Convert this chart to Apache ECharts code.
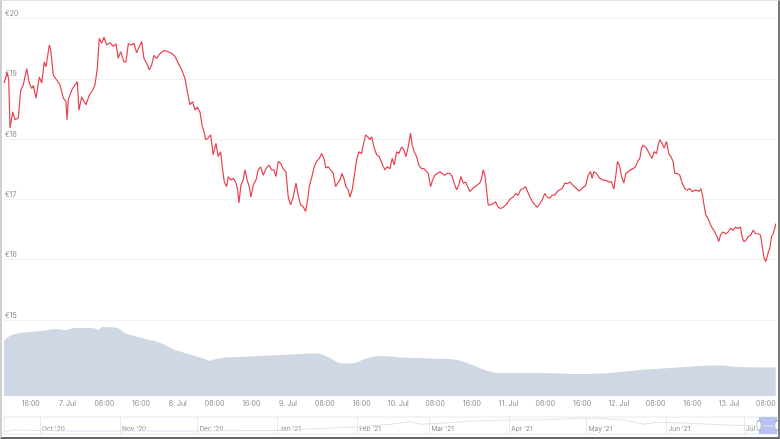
<!DOCTYPE html>
<html><head><meta charset="utf-8">
<script src="https://cdn.jsdelivr.net/npm/echarts@6/dist/echarts.min.js"></script>
<style>
html,body{margin:0;padding:0;background:#fff;}
#c{position:absolute;left:0;top:0;width:780px;height:439px;}
#frame{position:absolute;left:0;top:0;width:780px;height:439px;box-sizing:border-box;border-left:2px solid #cfcfcf;border-top:1px solid #e2e2e2;border-right:2px solid #7a7a7a;border-bottom:2px solid #666;pointer-events:none;}
</style>
</head><body><div id="c"></div><div id="frame"></div>
<script>
// Hours since 6 Jul 2021 00:00
const priceHours = [
10.18,10.90,11.21,11.49,11.86,12.08,12.58,13.29,13.82,14.38,15.12,15.69,16.21,16.56,17.15,17.86,18.39,18.95,19.32,20.04,
20.34,20.91,21.65,22.37,23.09,23.67,23.89,24.17,24.91,25.63,26.13,26.50,27.09,27.59,28.02,28.74,29.48,29.98,30.48,30.92,
31.44,31.94,32.53,33.25,33.96,34.55,35.05,35.57,36.29,36.73,37.23,37.97,38.47,39.05,39.62,40.14,40.64,41.23,41.80,42.32,
42.82,43.41,44.13,44.99,45.93,46.67,47.39,48.11,48.85,49.56,50.07,
50.65,51.24,51.74,52.24,52.83,53.33,53.70,54.07,54.63,55.16,55.72,56.31,56.81,57.33,57.68,58.12,58.64,58.99,59.51,60.07,
60.60,61.03,61.31,61.75,62.25,62.62,63.12,63.56,63.92,64.43,65.01,65.51,66.04,66.60,67.19,67.84,68.43,68.93,69.36,69.87,
70.39,70.95,71.54,72.04,72.56,73.13,73.72,74.21,74.74,75.30,75.83,76.26,76.61,77.20,77.70,78.22,78.79,79.31,79.81,80.24,
80.74,81.27,81.83,82.35,82.79,83.29,83.72,84.16,84.60,85.10,85.47,85.97,86.40,86.92,87.42,88.01,88.36,88.88,89.32,89.82,
90.19,90.69,91.28,91.84,
92.58,93.08,93.58,94.17,94.67,95.11,95.63,96.13,96.71,97.21,97.65,98.15,98.67,99.02,99.46,99.98,100.48,101.06,101.57,102.00,
102.50,103.02,103.46,103.96,104.46,105.05,105.55,106.13,106.64,107.22,107.72,108.16,108.68,109.18,109.62,110.12,110.64,111.07,111.57,112.16,
112.66,113.16,113.75,114.12,114.47,114.84,115.21,115.56,116.08,116.64,117.17,117.73,118.25,118.82,119.41,119.91,120.50,121.00,121.58,122.08,
122.61,123.17,123.69,124.13,124.63,125.22,125.72,126.22,126.81,127.31,127.89,128.40,128.98,129.48,130.07,130.57,131.16,131.66,132.24,132.75,
133.33,
134.05,134.79,135.36,136.10,136.75,137.31,137.84,138.18,138.55,139.14,139.86,140.58,141.32,141.89,142.41,142.91,143.34,143.71,144.21,144.58,
145.08,145.52,146.02,146.54,147.11,147.63,148.06,148.56,148.93,149.28,149.80,150.24,150.74,151.24,151.68,152.20,152.55,152.92,153.42,153.85,
154.37,154.87,155.31,155.81,156.18,156.68,157.26,157.77,158.35,158.86,159.44,159.94,160.53,161.03,161.47,161.83,162.20,162.49,162.92,163.42,
163.95,164.38,164.88,165.38,165.75,166.12,166.69,167.27,167.78,168.30,168.86,169.39,169.95,170.48,170.82,171.19,171.63,172.13,172.72,173.22,
173.73,174.30,174.83,175.26,175.61,175.98,176.48,176.85,177.22,177.57,177.94,178.15
];
const prices = [
18.93,19.10,18.98,18.18,18.21,18.45,18.32,18.35,18.81,18.90,19.17,18.93,18.84,18.89,18.68,19.03,18.93,19.28,19.20,19.56,
19.48,19.06,18.98,18.90,18.68,18.62,18.32,18.65,18.81,18.90,18.95,18.48,18.70,18.62,18.57,18.73,18.81,18.90,19.17,19.67,
19.59,19.69,19.56,19.60,19.54,19.58,19.34,19.45,19.28,19.28,19.58,19.56,19.59,19.43,19.53,19.62,19.34,19.26,19.15,19.23,
19.39,19.34,19.42,19.47,19.45,19.42,19.37,19.26,19.15,19.01,18.79,
18.57,18.62,18.48,18.53,18.45,18.21,18.13,17.99,18.02,18.07,17.74,17.93,17.71,17.79,17.54,17.29,17.21,17.38,17.32,17.35,
17.29,17.16,16.94,17.24,17.32,17.49,17.32,17.21,17.04,17.24,17.32,17.49,17.54,17.40,17.51,17.57,17.49,17.49,17.38,17.63,
17.60,17.51,17.46,17.04,16.91,17.04,17.27,17.07,16.91,16.88,16.80,16.99,17.21,17.38,17.54,17.63,17.68,17.76,17.68,17.52,
17.54,17.49,17.43,17.21,17.27,17.32,17.43,17.35,17.21,17.16,17.04,17.16,17.13,17.65,17.79,17.76,17.90,18.07,18.04,17.99,
18.04,17.87,17.74,17.71,
17.57,17.49,17.54,17.51,17.68,17.57,17.79,17.76,17.87,17.82,17.71,17.87,18.10,17.90,17.79,17.71,17.57,17.51,17.51,17.49,
17.43,17.21,17.32,17.40,17.43,17.46,17.43,17.40,17.43,17.43,17.38,17.27,17.16,17.24,17.38,17.27,17.29,17.27,17.13,17.18,
17.21,17.24,17.27,17.35,17.49,17.40,17.16,16.91,16.91,16.93,16.96,16.87,16.85,16.87,16.91,16.96,17.02,17.04,17.10,17.07,
17.16,17.18,17.21,17.13,17.04,16.96,16.91,16.87,16.93,16.99,17.10,17.04,17.02,17.07,17.07,17.13,17.16,17.18,17.27,17.26,
17.29,
17.23,17.18,17.14,17.19,17.23,17.40,17.46,17.35,17.46,17.43,17.35,17.32,17.31,17.29,17.29,17.17,17.40,17.63,17.54,17.38,
17.27,17.43,17.46,17.49,17.51,17.54,17.63,17.68,17.85,17.90,17.87,17.82,17.74,17.68,17.79,17.76,17.90,17.99,17.93,17.85,
17.96,17.76,17.71,17.63,17.43,17.43,17.40,17.27,17.18,17.15,17.18,17.13,17.15,17.15,17.13,17.18,17.07,16.93,16.74,16.68,
16.58,16.52,16.46,16.38,16.30,16.41,16.46,16.43,16.46,16.52,16.49,16.54,16.52,16.54,16.38,16.30,16.32,16.38,16.41,16.49,
16.43,16.43,16.41,16.19,16.03,15.97,16.11,16.19,16.38,16.43,16.52,16.60
];
const volumeHours = [10.18,11.05,12.58,13.66,15.84,19.10,21.28,23.46,25.63,27.81,29.98,30.63,31.51,34.34,34.99,36.51,38.69,40.86,43.04,45.22,
47.39,49.57,51.74,53.92,55.00,55.44,58.27,61.53,65.88,70.24,74.59,78.50,81.11,83.29,85.90,88.73,91.99,96.34,102.87,108.31,
111.57,114.84,118.10,126.80,135.51,142.04,148.56,155.09,161.62,165.97,170.32,178.15];
const volumes = [72.4,77.6,81.6,82.9,84.2,86.2,88.2,86.8,89.5,89.5,88.8,86.8,90.8,90.1,89.5,82.9,78.9,75.0,72.4,67.1,
60.5,56.6,52.6,48.7,46.1,47.4,50.7,51.3,52.6,53.9,55.3,55.9,50.0,43.4,42.8,48.7,52.6,50.7,49.3,48.0,
42.1,34.2,30.3,30.3,28.9,30.3,34.2,36.8,39.5,40.1,38.2,37.5];
const xTickHours = [16,24,32,40,48,56,64,72,80,88,96,104,112,120,128,136,144,152,160,168,176];
const xTickLabels = ['16:00','7. Jul','08:00','16:00','8. Jul','08:00','16:00','9. Jul','08:00','16:00','10. Jul','08:00','16:00','11. Jul','08:00','16:00','12. Jul','08:00','16:00','13. Jul','08:00'];
const yTickValues = [15,16,17,18,19,20];
// navigator: days since 1 Sep 2020
const navDays = [16.0,19.5,37.7,61.0,92.1,122.0,131.0,153.1,165.9,173.7,177.6,185.3,198.1,212.5,224.1,239.7,246.3,256.4,264.2,269.6,282.4,295.2,308.4,315.8];
const navPrices = [4.7,8.2,6.2,6.2,6.2,7.2,9.3,14.4,20.0,25.4,20.0,22.1,26.8,28.9,28.9,32.4,32.4,28.9,20.0,24.1,22.1,18.6,17.1,16.5];
const navMonthDays = [30,61,91,122,153,181,212,242,273,303];
const navMonthLabels = ["Oct '20","Nov '20","Dec '20","Jan '21","Feb '21","Mar '21","Apr '21","May '21","Jun '21","Jul '21"];
const navWindow = [308.8, 315.8];

const font = 'Inter, Roboto, "Noto Sans", sans-serif';
const chart = echarts.init(document.getElementById('c'));
chart.setOption({
  animation: false,
  grid: [
    {left: 4, right: 4, top: 18.5, height: 301.5},
    {left: 4, right: 4, top: 320, height: 76},
    {left: 4, right: 3, top: 417, height: 17, show: true, borderColor: '#e8e8e8', borderWidth: 1}
  ],
  xAxis: [
    {gridIndex: 0, type: 'value', min: 10.18, max: 178.2, show: false},
    {gridIndex: 1, type: 'value', min: 10.18, max: 178.2,
      axisLine: {show: false}, axisTick: {show: false}, splitLine: {show: false},
      axisLabel: {customValues: xTickHours, fontSize: 7, color: '#8a8a8a', fontFamily: font, margin: 4,
        formatter: v => xTickLabels[xTickHours.indexOf(v)]}},
    {gridIndex: 2, type: 'value', min: 16, max: 315.8,
      axisLine: {show: false}, splitLine: {show: false},
      axisTick: {customValues: navMonthDays, inside: true, length: 17, lineStyle: {color: '#e8e8e8', width: 1}},
      axisLabel: {customValues: navMonthDays, inside: true, align: 'left', margin: 1, padding: [0, 0, 0, 2],
        fontSize: 6.5, color: '#8a8a8a', fontFamily: font,
        formatter: v => navMonthLabels[navMonthDays.indexOf(v)]}}
  ],
  yAxis: [
    {gridIndex: 0, type: 'value', min: yTickValues[0], max: yTickValues[yTickValues.length - 1], interval: 1,
      axisLine: {show: false}, axisTick: {show: false},
      splitLine: {lineStyle: {color: '#f1f1f1', width: 1}},
      axisLabel: {inside: true, align: 'left', verticalAlign: 'bottom', margin: 1, padding: [0, 0, 1, 0],
        fontSize: 7, color: '#8a8a8a', fontFamily: font, formatter: '€{value}'}},
    {gridIndex: 1, type: 'value', min: 0, max: 100, show: false},
    {gridIndex: 2, type: 'value', min: 0, max: 35, show: false}
  ],
  series: [
    {type: 'line', xAxisIndex: 1, yAxisIndex: 1, symbol: 'none', smooth: 0.3,
      data: volumeHours.map((h, i) => [h, volumes[i]]),
      lineStyle: {width: 0}, areaStyle: {color: '#cfd6e4', opacity: 1}},
    {type: 'line', xAxisIndex: 0, yAxisIndex: 0, symbol: 'none',
      data: priceHours.map((h, i) => [h, prices[i]]),
      lineStyle: {color: '#e8424f', width: 1.2}},
    {type: 'line', xAxisIndex: 2, yAxisIndex: 2, symbol: 'none',
      data: navDays.map((d, i) => [d, navPrices[i]]),
      lineStyle: {color: '#dde2ee', width: 1},
      markArea: {silent: true, itemStyle: {color: '#b9c3f3', opacity: 1},
        data: [[{xAxis: navWindow[0]}, {xAxis: navWindow[1]}]]},
      markPoint: {silent: true, symbol: 'roundRect', symbolSize: [4, 9],
        itemStyle: {color: '#ffffff', borderColor: '#9aa0b0', borderWidth: 0.8}, label: {show: false},
        data: [{coord: [navWindow[0], 17.5]}, {coord: [navWindow[1], 17.5]}]}}
  ]
});
</script>
</body></html>
